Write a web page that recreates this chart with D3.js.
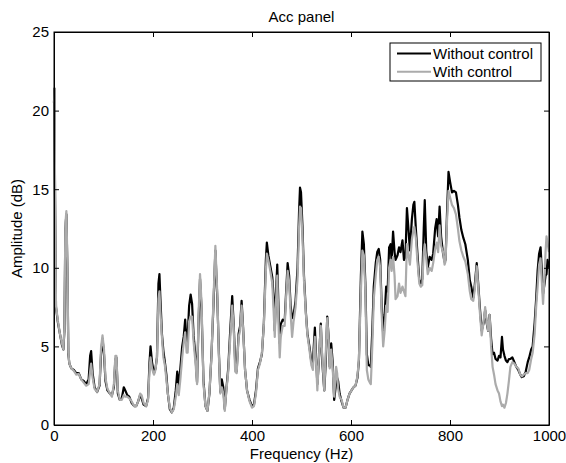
<!DOCTYPE html>
<html>
<head>
<meta charset="utf-8">
<script src="https://cdn.jsdelivr.net/npm/d3@7"></script>
<style>
  body { margin: 0; background: #fff; }
  svg text { font-family: "Liberation Sans", Arial, sans-serif; fill: #000; }
</style>
</head>
<body>
<div id="chart"></div>
<script>
// frequency points (Hz)
var freq = [0,1,2,4,8,12,16,19,21,23,25,27,29,31,35,40,45,50,55,60,65,70,73,75,78,82,87,92,95,98,101,104,108,113,117,121,124,126,129,133,137,141,144,148,152,157,162,166,170,174,177,181,186,190,193,195,198,202,205,208,211,213,215,218,221,224,227,230,234,238,242,246,249,252,255,259,262,265,268,270,273,276,279,282,286,289,292,295,298,302,306,310,314,318,322,326,330,333,336,339,342,345,348,352,356,360,363,366,369,373,376,379,382,386,390,395,400,404,408,412,416,420,424,428,430,433,437,441,444,446,448,451,454,456,458,462,466,469,472,475,478,481,484,488,492,495,497,499,502,505,509,512,516,520,523,527,530,532,535,539,542,546,549,552,555,557,560,563,566,570,572,574,577,581,585,589,593,597,601,605,609,613,616,620,623,626,629,632,635,638,640,643,646,650,653,656,659,662,665,668,671,674,677,680,682,685,688,690,694,697,700,704,707,710,713,716,719,723,726,728,731,734,738,741,744,747,749,752,755,759,763,766,770,773,776,779,782,786,789,791,794,797,800,804,808,812,816,819,823,827,831,836,840,843,847,850,854,857,860,864,868,871,874,877,880,883,886,889,892,896,899,902,905,907,910,913,916,919,922,926,930,934,938,942,945,949,953,957,960,964,967,971,974,977,980,983,986,988,991,993,995,997,1000];

// amplitude (dB) without control
var withoutControl = [20.5,21.4,15,7.5,6.5,5.8,5.1,4.8,6,12.5,13.4,10,4.5,3.9,3.6,3.5,3.3,3.3,2.9,2.8,2.6,2.9,4.4,4.7,3.3,2.4,2.1,2.5,4.5,5.5,4.5,2.8,2.2,2.0,1.9,2.4,4.2,4.3,2.0,1.6,1.7,2.4,2.2,1.9,1.8,1.4,1.2,1.2,1.5,1.9,1.7,1.3,1.2,1.7,4.0,5.0,4.0,3.3,3.6,4.3,9.0,9.6,8.0,5.8,4.7,4.0,3.2,2.0,1.0,0.8,1.1,2.2,3.4,2.5,3.5,5.0,5.6,6.7,5.2,5.6,7.6,8.3,7.7,5.7,4.3,2.7,6.5,9.3,7.4,2.8,1.2,0.9,2.0,4.4,7.5,11.1,8.0,4.7,2.1,2.9,2.4,1.0,2.2,3.6,6.0,8.2,6.4,4.0,3.4,5.8,6.3,7.9,6.2,3.5,2.2,1.6,1.2,1.3,2.2,3.6,4.0,4.5,6.5,10.5,11.6,10.8,10.1,9.4,8.0,6.0,8.0,10.2,7.0,5.2,6.4,6.7,6.6,8.5,10.3,9.5,7.6,6.8,7.0,7.9,10.0,13.5,15.1,14.8,12.6,9.5,7.1,5.8,5.0,4.0,4.0,6.2,4.0,2.6,4.0,6.45,4.0,2.2,4.0,6.9,5.5,3.7,5.2,4.0,1.6,2.7,3.0,2.8,2.0,1.5,1.1,1.1,1.6,2.0,2.2,2.4,2.5,3.0,4.1,9.5,12.3,11.5,9.0,4.5,3.8,3.8,3.7,6.0,8.8,10.3,11.0,11.2,10.5,7.5,5.8,7.0,8.8,8.5,11.3,11.5,10.4,12.3,11.0,10.5,10.8,11.3,11.0,11.75,10.5,10.7,13.8,12.5,11.1,13.1,14.0,14.2,12.5,11.0,9.2,9.0,9.3,12.5,14.3,11.1,10.0,10.7,10.5,10.9,12.5,13.1,12.0,13.9,12.0,10.9,10.4,10.5,13.5,16.1,15.5,14.8,14.9,14.8,14.0,13.2,12.4,11.9,11.5,10.5,9.2,8.8,8.1,8.9,10.3,9.0,7.6,6.0,6.5,7.3,6.5,6.0,7.0,5.5,4.5,4.6,4.2,4.1,4.4,4.3,5.6,4.8,4.4,4.1,4.0,4.2,4.2,4.3,4.0,3.7,3.5,3.2,3.05,3.1,3.4,4.0,4.3,4.8,5.0,6.5,8.0,9.8,10.9,11.3,9.5,8.35,9.0,9.5,9.6,10.5,10.0];

// amplitude (dB) with control
var withControl = [20.5,21.4,15.5,7.6,6.6,5.8,5.2,4.8,6.2,12.8,13.6,10.5,4.6,3.9,3.6,3.45,3.2,3.25,2.9,2.7,2.5,2.6,3.4,3.9,3.0,2.3,2.1,2.6,4.9,5.7,4.8,3.0,2.3,2.0,1.8,2.6,4.4,4.4,2.2,1.6,1.6,1.9,1.8,1.8,1.7,1.5,1.2,1.2,1.5,2.0,1.9,1.4,1.2,1.6,3.5,4.3,3.6,3.2,3.5,4.3,8.0,8.5,7.2,5.6,4.3,3.8,2.9,2.0,1.1,0.8,1.0,1.8,2.6,1.9,2.8,4.3,5.2,5.9,4.6,4.6,6.6,6.9,6.9,5.3,3.9,2.6,7.0,9.6,7.8,2.6,1.2,0.9,2.1,4.3,7.8,11.4,8.3,4.5,2.0,2.4,2.0,0.9,2.1,3.4,5.5,7.6,6.2,3.4,3.3,5.6,6.0,7.6,6.1,3.5,2.2,1.5,1.1,1.2,2.0,3.5,3.9,4.6,6.4,9.8,10.9,10.5,9.8,9.0,7.0,5.6,7.5,9.5,6.0,4.3,5.6,6.3,6.3,8.2,9.8,9.1,7.1,5.6,6.6,7.5,9.3,12.5,13.9,13.8,12.0,9.2,7.0,5.7,4.8,3.8,3.5,5.6,3.6,2.2,4.2,6.3,4.3,2.2,4.6,6.8,5.4,3.6,4.8,3.6,1.8,3.7,3.3,2.3,1.8,1.6,1.1,1.1,1.6,2.0,2.2,2.4,2.5,3.1,4.2,8.5,11.1,10.8,8.5,3.5,2.9,2.7,2.6,5.0,8.0,9.5,10.5,10.7,10.0,7.0,5.0,6.0,7.6,7.2,10.0,10.5,9.8,10.7,9.5,8.0,8.2,9.0,8.4,8.8,8.5,8.2,11.5,10.8,10.2,11.8,12.4,12.6,11.9,10.5,9.0,8.8,8.9,11.0,11.5,10.6,9.6,10.0,9.8,10.3,11.2,11.6,11.0,12.7,11.4,11.0,10.2,10.4,13.0,14.9,14.5,14.0,13.8,13.4,12.5,11.7,11.1,10.7,10.4,9.6,8.5,8.0,7.9,8.6,10.1,8.8,7.3,5.7,6.6,7.5,6.6,6.0,7.0,5.0,3.7,3.2,2.6,2.2,2.0,1.5,1.2,1.3,1.1,1.4,2.0,2.8,3.7,4.0,3.9,3.7,3.6,3.2,3.1,3.2,3.3,3.3,3.5,4.2,4.6,5.8,7.5,8.8,10.2,10.6,8.8,7.7,9.5,11.0,12.0,11.6,11.0];

var xTicks = [0, 200, 400, 600, 800, 1000];
var yTicks = [0, 5, 10, 15, 20, 25];
var seriesNames = ['Without control', 'With control'];
var seriesColors = ['#000000', '#ababab'];

var width = 566, height = 463;
var margin = {top: 32, right: 17, bottom: 38, left: 54};
var fontSize = 15;

var svg = d3.select('#chart')
  .append('svg')
    .attr('width', width)
    .attr('height', height);

var x = d3.scaleLinear()
  .domain([0, 1000])
  .range([margin.left, width - margin.right]);

var y = d3.scaleLinear()
  .domain([0, 25])
  .range([height - margin.bottom, margin.top]);

// lines (black first, gray on top)
var line = d3.line()
  .x(function(d) { return x(d[0]); })
  .y(function(d) { return y(d[1]); });

[withoutControl, withControl].forEach(function(vals, i) {
  svg.append('path')
    .datum(freq.map(function(f, k) { return [f, vals[k]]; }))
    .attr('fill', 'none')
    .attr('stroke', seriesColors[i])
    .attr('stroke-width', 2.2)
    .attr('stroke-linejoin', 'round')
    .attr('d', line);
});

// axes, matlab style: ticks inward on every side
var tickLen = 5;
svg.append('g')
  .attr('transform', 'translate(0,' + y(0) + ')')
  .call(d3.axisBottom(x).tickValues(xTicks).tickFormat(d3.format('d'))
    .tickSizeInner(-tickLen).tickSizeOuter(0).tickPadding(5))
  .call(function(g) { g.selectAll('text').attr('font-size', fontSize); });
svg.append('g')
  .attr('transform', 'translate(0,' + y(25) + ')')
  .call(d3.axisTop(x).tickValues(xTicks).tickSizeInner(-tickLen).tickSizeOuter(0).tickFormat(''));
svg.append('g')
  .attr('transform', 'translate(' + x(0) + ',0)')
  .call(d3.axisLeft(y).tickValues(yTicks).tickSizeInner(-tickLen).tickSizeOuter(0).tickPadding(5))
  .call(function(g) { g.selectAll('text').attr('font-size', fontSize); });
svg.append('g')
  .attr('transform', 'translate(' + x(1000) + ',0)')
  .call(d3.axisRight(y).tickValues(yTicks).tickSizeInner(-tickLen).tickSizeOuter(0).tickFormat(''));

svg.selectAll('.domain').attr('stroke', '#000');
svg.selectAll('.tick line').attr('stroke', '#000');
svg.selectAll('.tick text').attr('font-family', '"Liberation Sans", Arial, sans-serif');

// box
svg.append('rect')
  .attr('x', x(0)).attr('y', y(25))
  .attr('width', x(1000) - x(0)).attr('height', y(0) - y(25))
  .attr('fill', 'none').attr('stroke', '#000').attr('stroke-width', 1);

// titles
svg.append('text')
  .attr('x', (x(0) + x(1000)) / 2).attr('y', 22)
  .attr('text-anchor', 'middle').attr('font-size', fontSize)
  .text('Acc panel');
svg.append('text')
  .attr('x', (x(0) + x(1000)) / 2).attr('y', 459)
  .attr('text-anchor', 'middle').attr('font-size', fontSize)
  .text('Frequency (Hz)');
svg.append('text')
  .attr('transform', 'translate(22,' + (y(0) + y(25)) / 2 + ') rotate(-90)')
  .attr('text-anchor', 'middle').attr('font-size', fontSize)
  .text('Amplitude (dB)');

// legend
var legend = svg.append('g').attr('transform', 'translate(390,43)');
legend.append('rect')
  .attr('width', 151).attr('height', 38)
  .attr('fill', '#fff').attr('stroke', '#000').attr('stroke-width', 1);
seriesNames.forEach(function(name, i) {
  var ly = 10.5 + i * 18.2;
  legend.append('line')
    .attr('x1', 7).attr('x2', 41).attr('y1', ly).attr('y2', ly)
    .attr('stroke', seriesColors[i]).attr('stroke-width', 2);
  legend.append('text')
    .attr('x', 43).attr('y', ly + 5.5)
    .attr('font-size', fontSize)
    .text(name);
});
</script>
</body>
</html>
